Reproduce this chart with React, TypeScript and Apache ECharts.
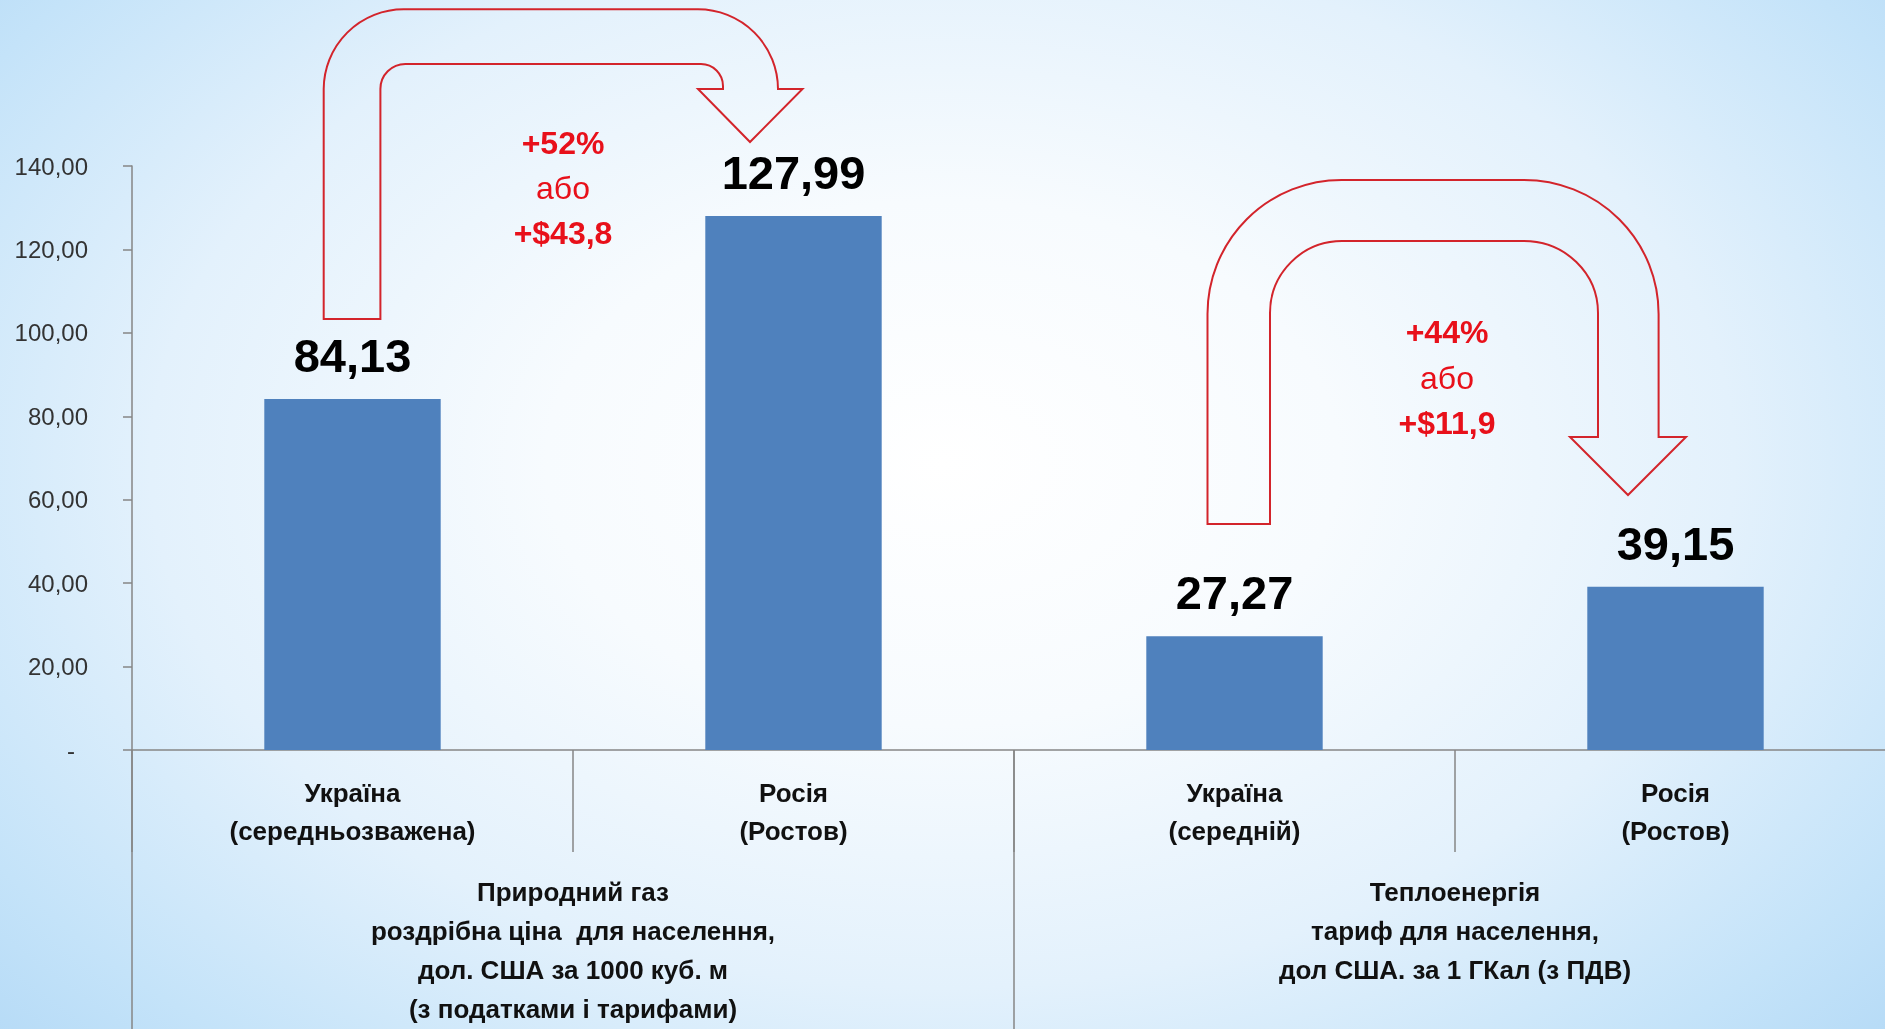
import React, { useEffect, useRef } from "react";
import * as echarts from "echarts";

// ---- data ----
const categories = [
  "Україна\n(середньозважена)",
  "Росія\n(Ростов)",
  "Україна\n(середній)",
  "Росія\n(Ростов)",
];
const groups = [
  "Природний газ\nроздрібна ціна  для населення,\nдол. США за 1000 куб. м\n(з податками і тарифами)",
  "Теплоенергія\nтариф для населення,\nдол США. за 1 ГКал (з ПДВ)",
];
const values = [84.13, 127.99, 27.27, 39.15];
const yMin = 0;
const yMax = 140;
const yStep = 20;
const gasNote = ["+52%", "або", "+$43,8"];
const heatNote = ["+44%", "або", "+$11,9"];

// ---- annotation arrow shapes (pixel geometry of the decorations) ----
const arrowGasPath =
  "M323.7 319 L323.7 89 A80 80 0 0 1 403.7 9.3 L698 9.3 A80 80 0 0 1 778 89 " +
  "L802.5 89 L750 142 L698 89 L723 89 L723 86 A22 22 0 0 0 701 64 L405.4 64 " +
  "A25 25 0 0 0 380.4 89 L380.4 319 Z";
const arrowHeatPath =
  "M1207.5 524 L1207.5 314 A134 134 0 0 1 1341.5 180 L1524 180 A134.6 134 0 0 1 1658.6 314 " +
  "L1658.6 437 L1686 437 L1628 495 L1570 437 L1598 437 L1598 313 A74 72 0 0 0 1524 241 " +
  "L1342 241 A72 72 0 0 0 1270 313 L1270 524 Z";

echarts.graphic.registerShape("arrowGas", echarts.graphic.extendPath(arrowGasPath, {}) as any);
echarts.graphic.registerShape("arrowHeat", echarts.graphic.extendPath(arrowHeatPath, {}) as any);

const FONT = "'Liberation Sans', Arial, sans-serif";
const RED = "#e8101a";
const ARROW_RED = "#d3242b";
const AXIS_GRAY = "#868686";

const fmt = (v: number) => v.toFixed(2).replace(".", ",");

function noteTexts(lines: string[], cx: number, ys: number[]) {
  return lines.map((t, i) => ({
    type: "text",
    x: cx,
    y: ys[i],
    z: 20,
    style: {
      text: t,
      fill: RED,
      font: `${i === 1 ? "normal" : "bold"} 32px ${FONT}`,
      textAlign: "center",
      textVerticalAlign: "middle",
    },
  }));
}

export default function App() {
  const ref = useRef<HTMLDivElement>(null);

  useEffect(() => {
    if (!ref.current) return;
    const chart = echarts.init(ref.current, undefined, { renderer: "svg" });
    chart.setOption({
      animation: false,
      backgroundColor: "transparent",
      textStyle: { fontFamily: FONT },
      grid: { left: 132, top: 166, width: 1764, height: 584, containLabel: false },
      xAxis: [
        {
          type: "category",
          data: categories,
          position: "bottom",
          axisLine: { show: true, lineStyle: { color: AXIS_GRAY, width: 1.5 } },
          axisTick: {
            show: true,
            alignWithLabel: false,
            interval: 0,
            length: 102,
            lineStyle: { color: AXIS_GRAY, width: 1.5 },
          },
          axisLabel: {
            interval: 0,
            margin: 24,
            fontSize: 26,
            fontWeight: "bold",
            color: "#111",
            lineHeight: 38,
            fontFamily: FONT,
          },
          splitLine: { show: false },
        },
        {
          type: "category",
          data: groups,
          position: "bottom",
          axisLine: { show: false },
          axisTick: {
            show: true,
            alignWithLabel: false,
            interval: 0,
            length: 300,
            lineStyle: { color: AXIS_GRAY, width: 1.5 },
          },
          axisLabel: {
            interval: 0,
            margin: 122,
            fontSize: 26,
            fontWeight: "bold",
            color: "#111",
            lineHeight: 39,
            fontFamily: FONT,
          },
          splitLine: { show: false },
        },
      ],
      yAxis: {
        type: "value",
        min: yMin,
        max: yMax,
        interval: yStep,
        axisLine: { show: true, lineStyle: { color: AXIS_GRAY, width: 1.5 } },
        axisTick: { show: true, length: 9, lineStyle: { color: AXIS_GRAY, width: 1.5 } },
        splitLine: { show: false },
        axisLabel: {
          margin: 44,
          fontSize: 24,
          color: "#333",
          fontFamily: FONT,
          formatter: (v: number) => (v === 0 ? "{z|-}" : fmt(v)),
          rich: { z: { fontSize: 24, color: "#333", padding: [0, 13, 0, 0] } },
        },
      },
      series: [
        {
          type: "bar",
          xAxisIndex: 0,
          data: values,
          barWidth: "40%",
          itemStyle: { color: "#4f81bd" },
          label: {
            show: true,
            position: "top",
            distance: 20,
            fontSize: 47,
            fontWeight: "bold",
            color: "#000",
            fontFamily: FONT,
            formatter: (p: any) => fmt(p.value),
          },
        },
      ],
      graphic: [
        {
          type: "arrowGas",
          x: 0,
          y: 0,
          z: 15,
          style: { fill: "none", stroke: ARROW_RED, lineWidth: 2 },
        },
        {
          type: "arrowHeat",
          x: 0,
          y: 0,
          z: 15,
          style: { fill: "none", stroke: ARROW_RED, lineWidth: 2 },
        },
        ...noteTexts(gasNote, 563, [143, 188, 233]),
        ...noteTexts(heatNote, 1447, [332, 378, 423]),
      ],
    });
    return () => chart.dispose();
  }, []);

  return (
    <div
      style={{
        position: "fixed",
        left: 0,
        top: 0,
        width: 1885,
        height: 1029,
        overflow: "hidden",
        background:
          "radial-gradient(ellipse 70% 85% at 50% 45%, #ffffff 0%, #f7fbfe 30%, #e3f1fc 60%, #c4e3f9 85%, #b3d9f6 100%)",
      }}
    >
      <div ref={ref} style={{ position: "absolute", left: 0, top: 0, width: 1920, height: 1029 }} />
    </div>
  );
}
